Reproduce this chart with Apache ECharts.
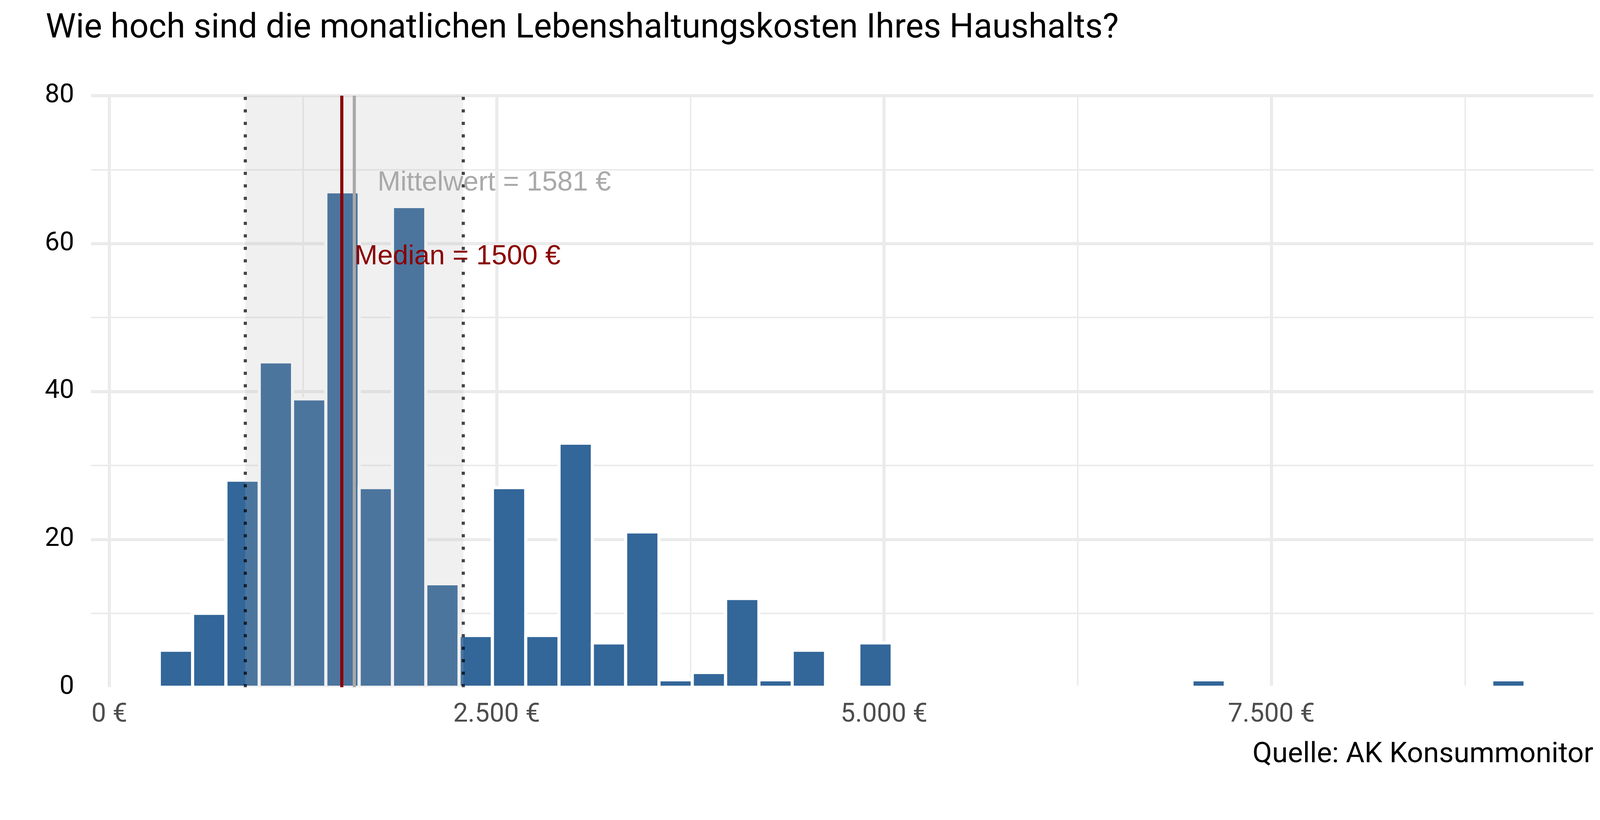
<!DOCTYPE html>
<html>
<head>
<meta charset="utf-8">
<script src="https://cdn.jsdelivr.net/npm/echarts@6/dist/echarts.min.js"></script>
<style>
  html, body { margin: 0; background: #fff; }
  #chart { width: 4200px; height: 2100px; }
</style>
</head>
<body>
<div id="chart"></div>
<script>
// Histogramm der monatlichen Lebenshaltungskosten (AK Konsummonitor)
const TITLE = 'Wie hoch sind die monatlichen Lebenshaltungskosten Ihres Haushalts?';
const CAPTION = 'Quelle: AK Konsummonitor';

// Klassenmitten (€) und Häufigkeiten, Klassenbreite 215 €
const BIN_WIDTH = 215;
const BIN_MID = [430, 645, 860, 1075, 1290, 1505, 1720, 1935, 2150, 2365, 2580, 2795, 3010,
  3225, 3440, 3655, 3870, 4085, 4300, 4515, 4730, 4945, 5160, 5375, 5590, 5805, 6020, 6235,
  6450, 6665, 6880, 7095, 7310, 7525, 7740, 7955, 8170, 8385, 8600, 8815, 9030];
const COUNTS = [5, 10, 28, 44, 39, 67, 27, 65, 14, 7, 27, 7, 33,
  6, 21, 1, 2, 12, 1, 5, 0, 6, 0, 0, 0, 0, 0, 0,
  0, 0, 0, 1, 0, 0, 0, 0, 0, 0, 0, 0, 1];

// Kennzahlen
const MEDIAN = 1500;
const MEAN = 1581;
const SD_BAND = [877, 2285]; // Mittelwert ± Standardabweichung

// Achsen
const X_RANGE = [-118.25, 9578.25];
const X_TICKS = [0, 2500, 5000, 7500];
const X_MINOR = [1250, 3750, 6250, 8750];
const Y_RANGE = [0, 80];

// Beschriftungen
const NOTE_TEXT = ['Mittelwert = ' + MEAN + ' €', 'Median = ' + MEDIAN + ' €'];
const NOTE_X = [1731, 1583];
const NOTE_Y = [68.2, 58.2];
const NOTE_COLOR = ['#A9A9A9', '#8B0000'];

const GRID = '#EBEBEB';
const euro = v => String(v).replace(/\B(?=(\d{3})+(?!\d))/g, '.') + ' €';

const chart = echarts.init(document.getElementById('chart'), null, { renderer: 'canvas' });

chart.setOption({
  animation: false,
  backgroundColor: '#fff',
  title: [
    { text: TITLE, left: 117, top: 31, padding: 0,
      textStyle: { fontFamily: 'Roboto', fontSize: 87, fontWeight: 'normal', color: '#000' } },
    { text: CAPTION, right: 121, top: 1897, padding: 0,
      textStyle: { fontFamily: 'Roboto', fontSize: 73, fontWeight: 'normal', color: '#000' } },
  ],
  grid: { left: 233, right: 121, top: 245, bottom: 340 },
  xAxis: {
    type: 'value', min: X_RANGE[0], max: X_RANGE[1],
    axisLine: { show: false }, axisTick: { show: false }, splitLine: { show: false },
    axisLabel: { customValues: X_TICKS, formatter: euro, fontFamily: 'Roboto', fontSize: 67,
      color: '#4D4D4D', margin: 38 },
  },
  yAxis: {
    type: 'value', min: Y_RANGE[0], max: Y_RANGE[1], interval: 20,
    axisLine: { show: false }, axisTick: { show: false },
    axisLabel: { fontFamily: 'Roboto', fontSize: 67, color: '#000', margin: 43 },
    splitLine: { lineStyle: { color: ['rgba(0,0,0,0)', GRID, GRID, GRID, GRID], width: 8 } },
    minorTick: { show: false, splitNumber: 2 },
    minorSplitLine: { show: true, lineStyle: { color: GRID, width: 4 } },
  },
  series: [
    // senkrechte Gitterlinien
    {
      type: 'line', data: [], silent: true,
      markLine: {
        z: 1, silent: true, symbol: 'none', label: { show: false }, emphasis: { disabled: true },
        lineStyle: { color: GRID, type: 'solid' },
        data: X_TICKS.map(v => ({ xAxis: v, lineStyle: { width: 8 } }))
          .concat(X_MINOR.map(v => ({ xAxis: v, lineStyle: { width: 4 } }))),
      },
    },
    // Balken
    {
      type: 'custom', z: 2, silent: true,
      data: BIN_MID.map((m, i) => [m, COUNTS[i]]),
      encode: { x: 0, y: 1 },
      renderItem: (params, api) => {
        const mid = api.value(0);
        const p0 = api.coord([mid - BIN_WIDTH / 2, api.value(1)]);
        const p1 = api.coord([mid + BIN_WIDTH / 2, 0]);
        return {
          type: 'rect',
          shape: { x: p0[0], y: p0[1], width: p1[0] - p0[0], height: p1[1] - p0[1] },
          style: { fill: '#336699', stroke: '#fff', lineWidth: 8 },
        };
      },
    },
    // Bereich Mittelwert ± SD, Linien
    {
      type: 'line', data: [], silent: true,
      markArea: {
        z: 3, silent: true, label: { show: false },
        itemStyle: { color: 'rgba(180,180,180,0.2)' },
        data: [[{ xAxis: SD_BAND[0] }, { xAxis: SD_BAND[1] }]],
      },
      markLine: {
        z: 4, silent: true, symbol: 'none', label: { show: false }, emphasis: { disabled: true },
        data: [
          ...SD_BAND.map(v => ({ xAxis: v,
            lineStyle: { color: 'rgba(0,0,0,0.72)', width: 8, type: [8, 24], cap: 'butt', dashOffset: 0 } })),
          { xAxis: MEDIAN, lineStyle: { color: '#8B0000', width: 8, type: 'solid' } },
          { xAxis: MEAN, lineStyle: { color: '#A9A9A9', width: 8, type: 'solid' } },
        ],
      },
    },
    // Textbeschriftungen
    {
      type: 'custom', z: 6, silent: true,
      data: NOTE_X.map((x, i) => [x, NOTE_Y[i], i]),
      encode: { x: 0, y: 1 },
      renderItem: (params, api) => {
        const p = api.coord([api.value(0), api.value(1)]);
        const i = api.value(2);
        return {
          type: 'text',
          x: p[0], y: p[1],
          style: { text: NOTE_TEXT[i], fill: NOTE_COLOR[i], font: '70.5px "Liberation Sans"',
            align: 'left', verticalAlign: 'middle' },
        };
      },
    },
  ],
});
</script>
</body>
</html>
